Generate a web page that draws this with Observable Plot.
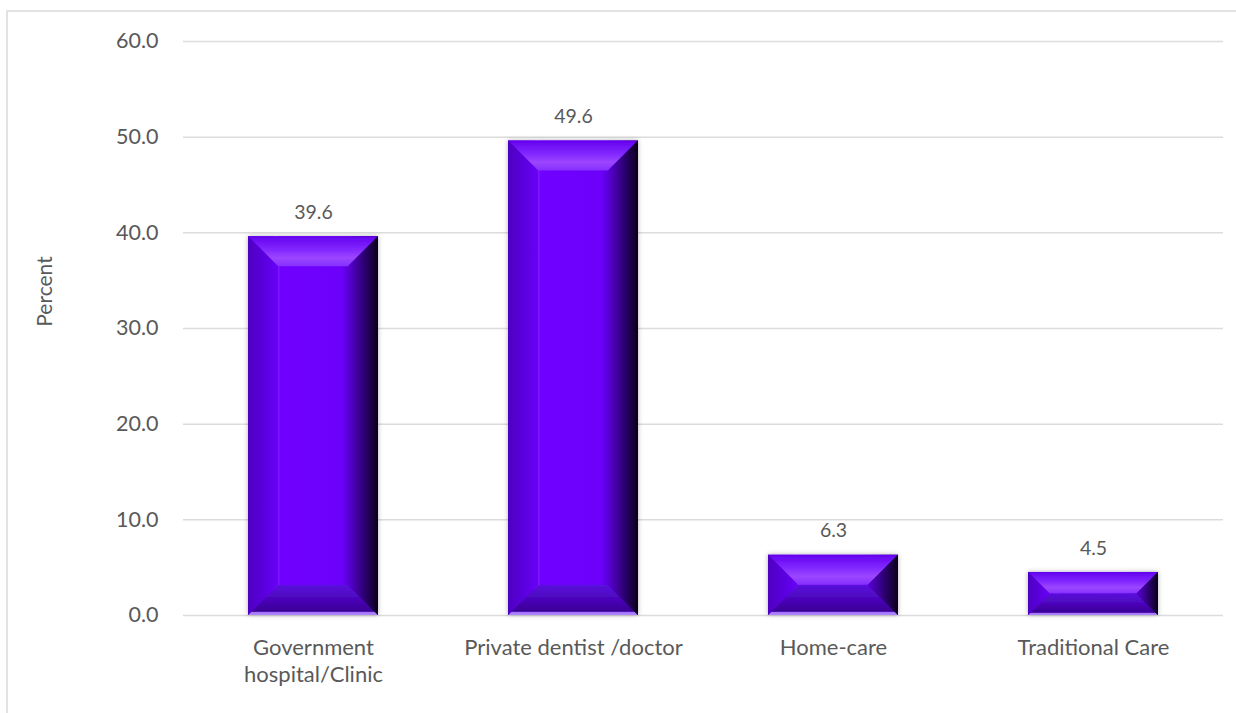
<!DOCTYPE html>
<html><head><meta charset="utf-8">
<script src="https://cdn.jsdelivr.net/npm/d3@7"></script>
<script src="https://cdn.jsdelivr.net/npm/@observablehq/plot@0.6"></script>
<style>
html,body{margin:0;padding:0;background:#fff;overflow:hidden;}
#wrap{position:relative;width:1236px;height:713px;}
#border{position:absolute;left:6px;top:10px;width:1300px;height:800px;border:2px solid #e3e3e3;box-sizing:border-box;}
#chart{position:absolute;left:0;top:0;}
</style></head><body>
<div id="wrap"><div id="border"></div><div id="chart"></div></div>
<script>
const categories = ["Government\nhospital/Clinic", "Private dentist /doctor", "Home-care", "Traditional Care"];
const values = [39.6, 49.6, 6.3, 4.5];
const yTicks = [0, 10, 20, 30, 40, 50, 60];
const yLabel = "Percent";

const data = categories.map((c, i) => ({category: c, value: values[i]}));
const font = "Lato, 'Open Sans', sans-serif";
const textColor = "#595959";

const chart = Plot.plot({
  width: 1236, height: 713,
  marginLeft: 183, marginRight: 13, marginTop: 41, marginBottom: 98,
  style: {fontFamily: font, fontSize: "21px", color: textColor, background: "transparent"},
  x: {domain: categories, paddingInner: 0.5, paddingOuter: 0.25, axis: null},
  y: {domain: [0, 60]},
  marks: [
    Plot.gridY(yTicks, {stroke: "#dcdcdc", strokeOpacity: 1, strokeWidth: 1.5}),
    Plot.axisY(yTicks, {tickSize: 0, tickPadding: 25, tickFormat: d3.format(".1f"), fill: textColor, fontSize: 21.5, label: null}),
    Plot.barY(data, {x: "category", y: "value", fill: "url(#faceGrad)"}),
    Plot.text(data, {x: "category", y: "value", text: d => d.value.toFixed(1), dy: -24, fill: textColor, fontSize: 19.5}),
    Plot.text(data, {x: "category", y: () => 0, text: "category", lineAnchor: "top", dy: 21, lineHeight: 1.2, fill: textColor, fontSize: 22}),
    Plot.text([yLabel], {frameAnchor: "left", textAnchor: "middle", text: d => d, rotate: -90, dx: -138, dy: -37, fill: textColor, fontSize: 21})
  ]
});
document.getElementById("chart").appendChild(chart);

const svg = d3.select(chart.tagName.toLowerCase() === "svg" ? chart : chart.querySelector("svg"));
const defs = svg.insert("defs", ":first-child");
function grad(id, vertical, stops) {
  const g = defs.append("linearGradient").attr("id", id)
    .attr("x1", 0).attr("y1", 0).attr("x2", vertical ? 0 : 1).attr("y2", vertical ? 1 : 0);
  stops.forEach(([o, c]) => g.append("stop").attr("offset", o).attr("stop-color", c));
}
grad("faceGrad", false, [[0, "#4e00c0"], [0.12, "#5c00e2"], [0.19, "#6a00f8"], [0.22, "#8a2cff"], [0.25, "#7000ff"], [0.72, "#6c00fa"], [0.82, "#4800b4"], [0.93, "#22005a"], [1, "#0a0018"]]);
grad("topGrad", true, [[0, "#6400ee"], [0.45, "#8228ff"], [0.72, "#9c46ff"], [1, "#8630ff"]]);
grad("bottomGrad", true, [[0, "#5a12dc"], [0.5, "#4a04b8"], [0.88, "#3a0094"], [0.9, "#a070ff"], [1, "#b488ff"]]);
grad("rightGrad", false, [[0, "#5a00d8"], [0.5, "#30007a"], [1, "#0a0018"]]);
grad("leftGrad", false, [[0, "#4e00c0"], [0.6, "#5c00e2"], [1, "#6a00f8"]]);
const f = defs.append("filter").attr("id", "barShadow").attr("x", "-10%").attr("y", "-10%").attr("width", "120%").attr("height", "120%");
f.append("feDropShadow").attr("dx", 0).attr("dy", 0).attr("stdDeviation", 2.5).attr("flood-color", "#000").attr("flood-opacity", 0.3);

svg.selectAll("g[aria-label='bar'] rect").each(function () {
  const r = d3.select(this);
  const x = +r.attr("x"), y = +r.attr("y"), w = +r.attr("width"), h = +r.attr("height");
  const b = Math.min(30, h / 2, w / 2);
  const g = d3.select(this.parentNode);
  g.attr("filter", "url(#barShadow)");
  g.append("polygon").attr("points", [[x, y], [x + w, y], [x + w - b, y + b], [x + b, y + b]].join(" ")).attr("fill", "url(#topGrad)");
  g.append("polygon").attr("points", [[x, y + h], [x + w, y + h], [x + w - b, y + h - b], [x + b, y + h - b]].join(" ")).attr("fill", "url(#bottomGrad)");
  g.append("polygon").attr("points", [[x + w, y], [x + w - b, y + b], [x + w - b, y + h - b], [x + w, y + h]].join(" ")).attr("fill", "url(#rightGrad)");
  g.append("polygon").attr("points", [[x, y], [x + b, y + b], [x + b, y + h - b], [x, y + h]].join(" ")).attr("fill", "url(#leftGrad)");
});
</script>
</body></html>
